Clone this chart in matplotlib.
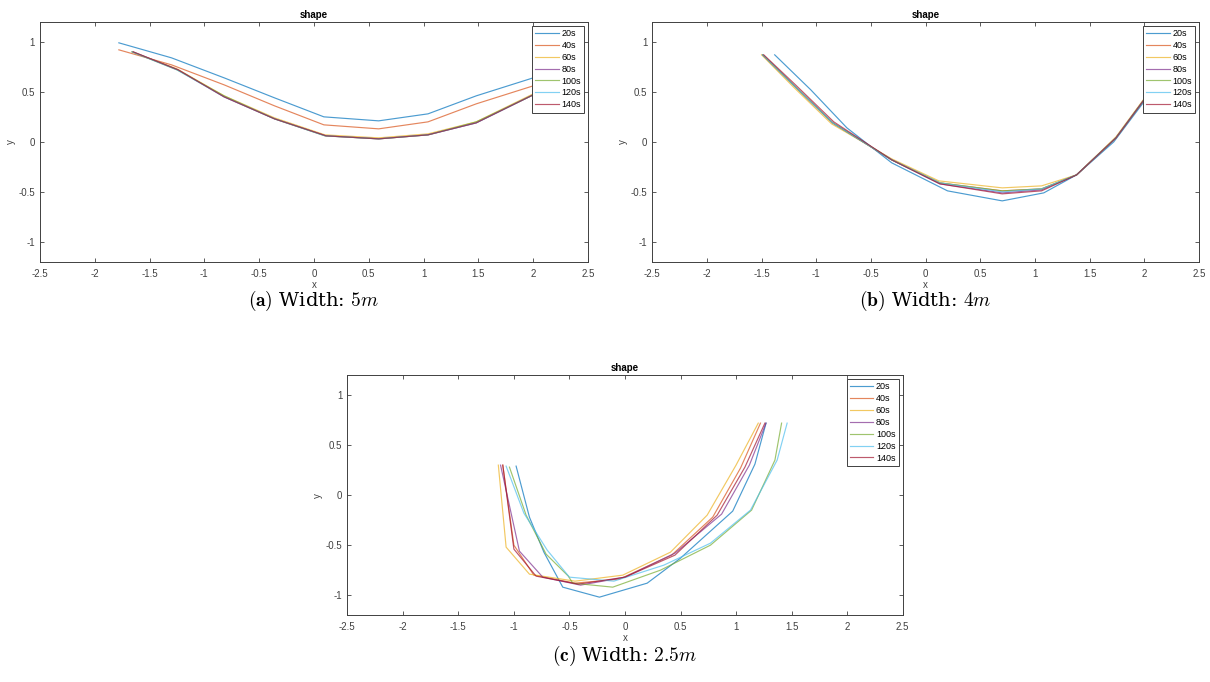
"""
Recreate the three 'shape' panels (widths 5m, 4m, 2.5m).
"""

import matplotlib
matplotlib.use("Agg")
import matplotlib.pyplot as plt

plt.rcParams["font.family"] = ["Liberation Sans", "DejaVu Sans"]
plt.rcParams["mathtext.fontset"] = "cm"

LABELS = ["20s", "40s", "60s", "80s", "100s", "120s", "140s"]
COLORS = ["#0072BD", "#D95319", "#EDB120", "#7E2F8E", "#77AC30", "#4DBEEE", "#A2142F"]

# panel (a): width 5m
A_X = {
    "20s": [-1.78, -1.30, -0.82, -0.36, 0.09, 0.59, 1.04, 1.48, 2.0, 2.1],
    "40s": [-1.78, -1.30, -0.82, -0.36, 0.09, 0.59, 1.04, 1.48, 2.0, 2.1],
    "60s": [-1.66, -1.25, -0.82, -0.36, 0.10, 0.59, 1.04, 1.48, 2.0, 2.1],
    "80s": [-1.65, -1.24, -0.82, -0.36, 0.11, 0.59, 1.04, 1.48, 2.0, 2.1],
    "100s": [-1.66, -1.25, -0.82, -0.36, 0.10, 0.59, 1.04, 1.48, 2.0, 2.1],
    "120s": [-1.66, -1.25, -0.82, -0.36, 0.10, 0.59, 1.04, 1.48, 2.0, 2.1],
    "140s": [-1.65, -1.24, -0.82, -0.36, 0.11, 0.59, 1.04, 1.48, 2.0, 2.1],
}
A_Y = {
    "20s": [0.99, 0.84, 0.64, 0.44, 0.25, 0.21, 0.28, 0.46, 0.64, 0.68],
    "40s": [0.92, 0.77, 0.57, 0.36, 0.17, 0.13, 0.20, 0.38, 0.56, 0.60],
    "60s": [0.90, 0.73, 0.46, 0.24, 0.07, 0.04, 0.08, 0.20, 0.48, 0.54],
    "80s": [0.90, 0.72, 0.45, 0.23, 0.06, 0.03, 0.07, 0.19, 0.47, 0.53],
    "100s": [0.90, 0.72, 0.46, 0.23, 0.06, 0.03, 0.07, 0.20, 0.47, 0.53],
    "120s": [0.90, 0.72, 0.45, 0.23, 0.06, 0.03, 0.07, 0.19, 0.47, 0.53],
    "140s": [0.90, 0.72, 0.45, 0.23, 0.06, 0.03, 0.07, 0.19, 0.47, 0.53],
}

# panel (b): width 4m
B_X = {
    "20s": [-1.38, -1.05, -0.72, -0.31, 0.20, 0.70, 1.08, 1.38, 1.72, 2.03],
    "40s": [-1.49, -1.20, -0.85, -0.31, 0.13, 0.70, 1.06, 1.38, 1.74, 2.03],
    "60s": [-1.50, -1.21, -0.86, -0.31, 0.12, 0.70, 1.06, 1.38, 1.74, 2.03],
    "80s": [-1.49, -1.20, -0.85, -0.31, 0.13, 0.70, 1.06, 1.38, 1.74, 2.03],
    "100s": [-1.49, -1.20, -0.85, -0.31, 0.13, 0.70, 1.06, 1.38, 1.74, 2.03],
    "120s": [-1.49, -1.20, -0.85, -0.31, 0.13, 0.70, 1.06, 1.38, 1.74, 2.03],
    "140s": [-1.48, -1.19, -0.84, -0.31, 0.13, 0.70, 1.06, 1.38, 1.74, 2.03],
}
B_Y = {
    "20s": [0.87, 0.52, 0.14, -0.21, -0.49, -0.59, -0.51, -0.33, 0.00, 0.45],
    "40s": [0.87, 0.56, 0.19, -0.18, -0.41, -0.49, -0.47, -0.33, 0.04, 0.47],
    "60s": [0.87, 0.55, 0.18, -0.17, -0.39, -0.46, -0.44, -0.33, 0.05, 0.48],
    "80s": [0.87, 0.56, 0.19, -0.18, -0.42, -0.51, -0.48, -0.33, 0.04, 0.47],
    "100s": [0.87, 0.56, 0.19, -0.18, -0.41, -0.49, -0.47, -0.33, 0.04, 0.47],
    "120s": [0.87, 0.56, 0.19, -0.18, -0.41, -0.50, -0.47, -0.33, 0.04, 0.47],
    "140s": [0.87, 0.57, 0.20, -0.18, -0.42, -0.52, -0.49, -0.33, 0.04, 0.47],
}

# panel (c): width 2.5m
C_X = {
    "20s": [-0.98, -0.86, -0.73, -0.56, -0.23, 0.20, 0.50, 0.97, 1.17, 1.27],
    "40s": [-1.10, -1.00, -0.82, -0.45, -0.05, 0.42, 0.79, 1.04, 1.22],
    "60s": [-1.14, -1.07, -0.86, -0.45, -0.02, 0.41, 0.74, 1.00, 1.20],
    "80s": [-1.12, -0.95, -0.74, -0.40, 0.00, 0.45, 0.87, 1.12, 1.27],
    "100s": [-1.04, -0.89, -0.71, -0.51, -0.47, -0.11, 0.32, 0.77, 1.14, 1.35, 1.41],
    "120s": [-1.07, -0.91, -0.70, -0.50, -0.10, 0.35, 0.77, 1.13, 1.37, 1.46],
    "140s": [-1.10, -1.00, -0.80, -0.42, 0.00, 0.45, 0.83, 1.08, 1.26],
}
C_Y = {
    "20s": [0.29, -0.22, -0.57, -0.92, -1.02, -0.88, -0.63, -0.16, 0.31, 0.72],
    "40s": [0.30, -0.50, -0.80, -0.88, -0.84, -0.60, -0.22, 0.27, 0.72],
    "60s": [0.30, -0.52, -0.79, -0.86, -0.80, -0.57, -0.20, 0.30, 0.72],
    "80s": [0.30, -0.56, -0.82, -0.90, -0.82, -0.58, -0.19, 0.30, 0.72],
    "100s": [0.28, -0.20, -0.59, -0.81, -0.88, -0.92, -0.75, -0.50, -0.15, 0.35, 0.72],
    "120s": [0.29, -0.18, -0.55, -0.82, -0.86, -0.70, -0.48, -0.15, 0.35, 0.72],
    "140s": [0.30, -0.54, -0.81, -0.89, -0.82, -0.60, -0.20, 0.28, 0.72],
}

AXIS_GRAY = "#404040"


def draw_panel(ax, xs, ys):
    for lab, col in zip(LABELS, COLORS):
        ax.plot(xs[lab], ys[lab], color=col, lw=0.85, alpha=0.7, label=lab)
    ax.set_xlim(-2.5, 2.5)
    ax.set_ylim(-1.2, 1.2)
    ax.set_xticks([-2.5, -2, -1.5, -1, -0.5, 0, 0.5, 1, 1.5, 2, 2.5])
    ax.set_xticklabels(["-2.5", "-2", "-1.5", "-1", "-0.5", "0", "0.5", "1", "1.5", "2", "2.5"])
    ax.set_yticks([-1, -0.5, 0, 0.5, 1])
    ax.set_yticklabels(["-1", "-0.5", "0", "0.5", "1"])
    ax.tick_params(axis="x", pad=5)
    ax.tick_params(direction="in", top=True, right=True, length=3, width=0.6,
                   labelsize=7, colors=AXIS_GRAY)
    for s in ax.spines.values():
        s.set_color(AXIS_GRAY)
        s.set_linewidth(0.7)
    ax.set_title("shape", fontsize=7, fontweight="bold", pad=3)
    ax.set_xlabel("x", fontsize=7, color=AXIS_GRAY, labelpad=1)
    ax.set_ylabel("y", fontsize=7, color=AXIS_GRAY, labelpad=2)
    leg = ax.legend(loc="upper right", fontsize=6.5, handlelength=2.6, handletextpad=0.3,
                    labelspacing=0.32, borderpad=0.35, borderaxespad=0.45,
                    fancybox=False, framealpha=1)
    leg.get_frame().set_edgecolor(AXIS_GRAY)
    leg.get_frame().set_linewidth(0.7)


fig = plt.figure(figsize=(12.1, 6.82), dpi=100)
ax_a = fig.add_axes([0.033, 0.616, 0.453, 0.352])
ax_b = fig.add_axes([0.539, 0.616, 0.452, 0.352])
ax_c = fig.add_axes([0.287, 0.098, 0.459, 0.352])

draw_panel(ax_a, A_X, A_Y)
draw_panel(ax_b, B_X, B_Y)
draw_panel(ax_c, C_X, C_Y)

fig.text(313 / 1210, 1 - 301 / 682, r"$\mathbf{(a)}$ Width: $5m$", fontsize=14,
         family="DejaVu Serif", math_fontfamily="cm", ha="center", va="center")
fig.text(925 / 1210, 1 - 301 / 682, r"$\mathbf{(b)}$ Width: $4m$", fontsize=14,
         family="DejaVu Serif", math_fontfamily="cm", ha="center", va="center")
fig.text(625 / 1210, 1 - 656 / 682, r"$\mathbf{(c)}$ Width: $2.5m$", fontsize=14,
         family="DejaVu Serif", math_fontfamily="cm", ha="center", va="center")

fig.savefig("out.png", dpi=100)
